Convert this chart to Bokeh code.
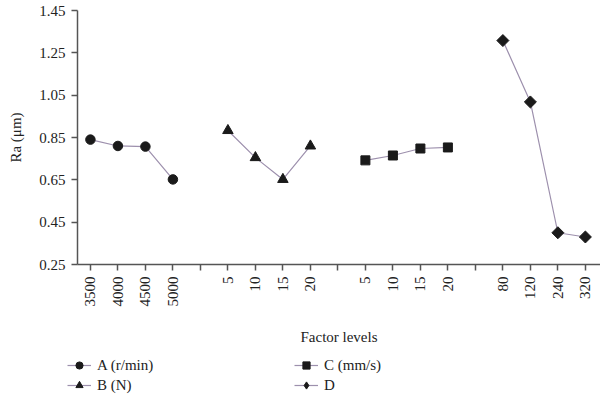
import math
from bokeh.plotting import figure
from bokeh.layouts import column
from bokeh.models import FixedTicker, Legend, LegendItem, Range1d, NumeralTickFormatter
from bokeh.embed import file_html
from bokeh.resources import INLINE

# ---- data ----
a_levels = ["3500", "4000", "4500", "5000"]
a_values = [0.840, 0.810, 0.807, 0.652]
b_levels = ["5", "10", "15", "20"]
b_values = [0.883, 0.755, 0.652, 0.810]
c_levels = ["5", "10", "15", "20"]
c_values = [0.742, 0.765, 0.798, 0.803]
d_levels = ["80", "120", "240", "320"]
d_values = [1.308, 1.018, 0.400, 0.380]
series_names = ["A (r/min)", "B (N)", "C (mm/s)", "D"]
y_ticks = [0.25, 0.45, 0.65, 0.85, 1.05, 1.25, 1.45]

FONT = "Liberation Serif"
LINE_COLOR = "#9d90ad"
MARK_COLOR = "#1a1a1a"
AXIS_COLOR = "#555555"
TEXT_COLOR = "#222222"

p = figure(width=600, height=350, output_backend="svg", toolbar_location=None,
           x_range=Range1d(-0.47, 18.55), y_range=Range1d(0.25, 1.45),
           min_border_left=77, min_border_right=0, min_border_top=10, min_border_bottom=86)
p.grid.visible = False
p.outline_line_color = None

groups = [a_levels, b_levels, c_levels, d_levels]
vals = [a_values, b_values, c_values, d_values]
markers = ["circle", "triangle", "square", "square"]
msizes = [9.5, 10.5, 9, 8.5]
mangles = [0, 0, 0, math.pi / 4]
leg_markers = ["circle", "triangle", "square", "diamond"]
leg_sizes = [9.5, 10.5, 9, 12]

# legend strip below the chart (its own series copies sit outside its visible range)
lg = figure(width=600, height=47, output_backend="svg", toolbar_location=None,
            x_range=Range1d(-200, -199), y_range=Range1d(-200, -199),
            x_axis_location=None, y_axis_location=None,
            min_border_left=0, min_border_right=0, min_border_top=0, min_border_bottom=0)
lg.grid.visible = False
lg.outline_line_color = None
lg.frame_align = False

tick_pos = []
tick_lab = {}
items = []
pos = 0
for gi, (levels, v) in enumerate(zip(groups, vals)):
    xs = [pos + i for i in range(len(levels))]
    for x, lab in zip(xs, levels):
        tick_pos.append(x)
        tick_lab[x] = lab
    p.line(xs, v, line_color=LINE_COLOR, line_width=1.2)
    p.scatter(xs, v, marker=markers[gi], size=msizes[gi], angle=mangles[gi],
              fill_color=MARK_COLOR, line_color=MARK_COLOR)
    l_line = lg.line(xs, v, line_color=LINE_COLOR, line_width=1.2)
    l_mark = lg.scatter(xs, v, marker=leg_markers[gi], size=leg_sizes[gi],
                        fill_color=MARK_COLOR, line_color=MARK_COLOR)
    items.append(LegendItem(label=series_names[gi], renderers=[l_line, l_mark]))
    pos += len(levels)
    if gi < len(groups) - 1:
        tick_pos.append(pos)
        tick_lab[pos] = ""
        pos += 1

p.xaxis.ticker = FixedTicker(ticks=tick_pos)
p.xaxis.major_label_overrides = tick_lab
p.xaxis.major_label_orientation = math.pi / 2
p.yaxis.ticker = FixedTicker(ticks=y_ticks)
p.yaxis.formatter = NumeralTickFormatter(format="0.00")

for ax in (p.xaxis, p.yaxis):
    ax.axis_line_color = AXIS_COLOR
    ax.axis_line_width = 1.5
    ax.major_tick_line_color = AXIS_COLOR
    ax.major_tick_line_width = 1.5
    ax.major_tick_out = 6
    ax.major_tick_in = 0
    ax.minor_tick_line_color = None
    ax.major_label_text_font = FONT
    ax.major_label_text_font_size = "15px"
    ax.major_label_text_color = TEXT_COLOR
    ax.axis_label_text_font = FONT
    ax.axis_label_text_font_size = "15px"
    ax.axis_label_text_font_style = "normal"
    ax.axis_label_text_color = TEXT_COLOR

p.xaxis.axis_label = "Factor levels"
p.xaxis.major_label_standoff = 6
p.xaxis.axis_label_standoff = 19
p.yaxis.axis_label = "Ra (μm)"
p.yaxis.major_label_standoff = 6
p.yaxis.axis_label_standoff = 12

legend = Legend(items=items, orientation="vertical", nrows=2,
                location=(67, 3), label_text_font=FONT,
                label_text_font_size="15px", label_text_color=TEXT_COLOR,
                glyph_width=24, glyph_height=18, label_height=18,
                label_width=195, label_standoff=6, spacing=2,
                padding=0, margin=0, border_line_color=None,
                background_fill_alpha=0)
lg.add_layout(legend, "center")

layout = column(p, lg, spacing=0)
open("out.html", "w").write(file_html(layout, INLINE))
